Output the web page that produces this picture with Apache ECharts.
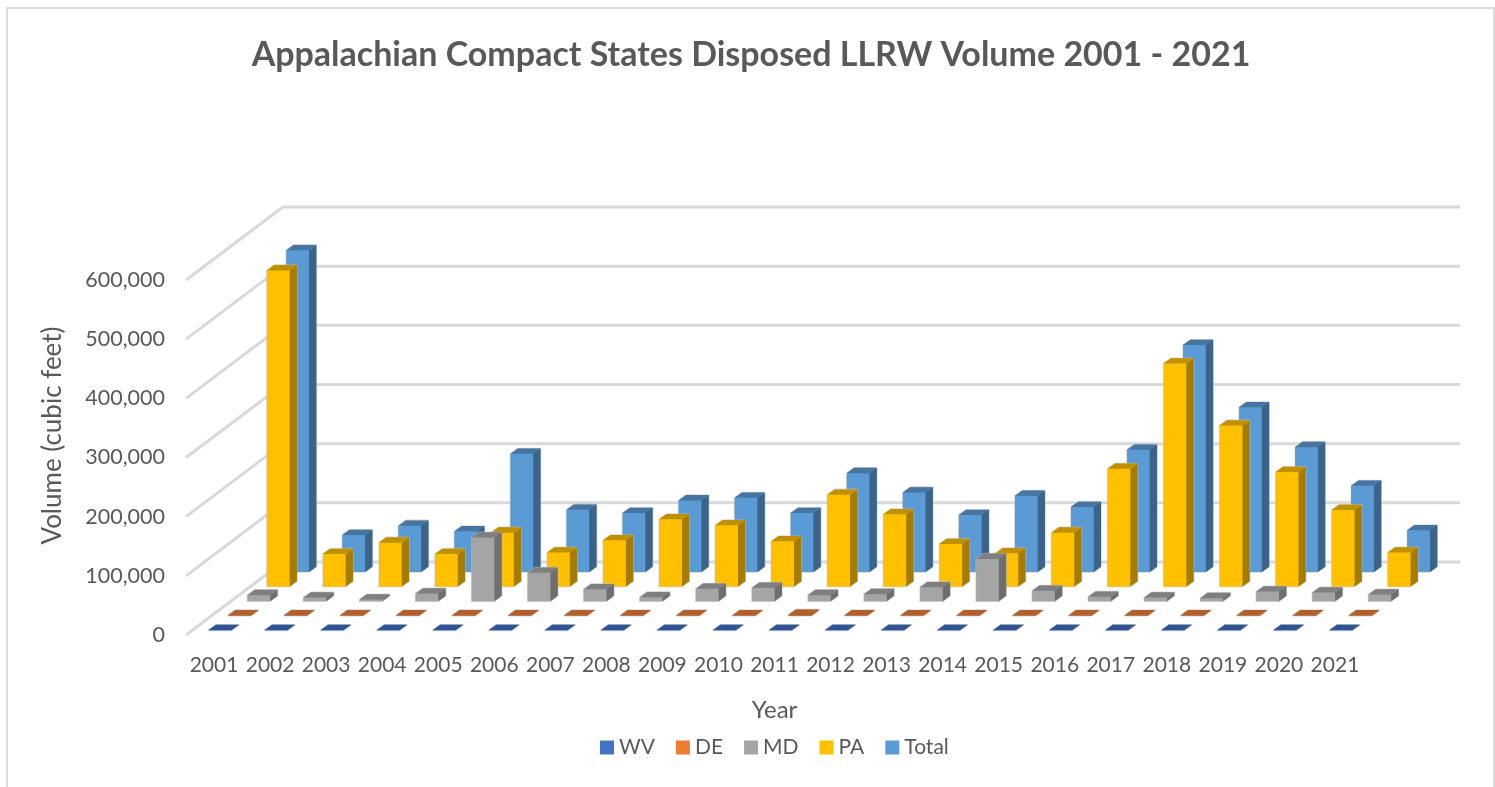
<!DOCTYPE html>
<html>
<head>
<meta charset="utf-8">
<style>html,body{margin:0;padding:0;background:#fff}#c{width:1495px;height:787px}</style>
<script src="https://cdn.jsdelivr.net/npm/echarts@6/dist/echarts.min.js"></script>
</head>
<body>
<div id="c"></div>
<script>
const years = ['2001','2002','2003','2004','2005','2006','2007','2008','2009','2010','2011','2012','2013','2014','2015','2016','2017','2018','2019','2020','2021'];
const WV = [500,500,500,500,500,500,500,500,500,500,500,500,500,500,500,500,500,500,500,500,500];
const DE = [800,800,800,800,800,800,800,800,800,800,1500,800,800,800,800,800,800,800,800,800,800];
const MD = [10100,6200,2800,12900,107400,47800,20200,6700,20800,22500,10100,11800,23600,71400,17400,7300,6200,5100,16300,14600,11200];
const PA = [534300,55100,74200,55100,91100,57400,78200,113600,103500,76500,155200,122000,72000,56200,91100,199100,377000,272300,193500,129400,57400];
const Total = [543800,62400,78200,68600,199700,105200,99500,120900,125400,99500,167000,134400,96200,128800,109700,206400,383500,278400,210900,145700,70300];
const gridTicks = [0,100000,200000,300000,400000,500000,600000];

const legendNames = ['WV','DE','MD','PA','Total'];
const seriesValues = [WV, DE, MD, PA, Total];
const palette = [
  {legend:'#4472c4', front:'#2f5597', side:'#264478', top:'#2f5597'},
  {legend:'#ed7d31', front:'#b5602a', side:'#9c5020', top:'#b5602a'},
  {legend:'#a5a5a5', front:'#a5a5a5', side:'#6e6e6e', top:'#7f7f7f'},
  {legend:'#ffc000', front:'#ffc000', side:'#a67c00', top:'#bf9000'},
  {legend:'#5b9bd5', front:'#5b9bd5', side:'#3a6489', top:'#4575a0'}
];

// oblique projection of the depth axis (pixels)
const wallDX = 97, wallDY = 73, slots = 5;
const barDX = 7.3, barDY = 5.3, barRatio = 0.405;
const slotDX = wallDX / slots, slotDY = wallDY / slots;

function barRenderer(depth, colors) {
  return function (params, api) {
    const idx = api.value(0), val = api.value(1);
    const bandW = api.size([1, 0])[0];
    const w = bandW * barRatio;
    const base = api.coord([idx, 0]);
    const head = api.coord([idx, val]);
    const ox = depth * slotDX + (slotDX - barDX) / 2;
    const oy = depth * slotDY + (slotDY - barDY) / 2;
    const xL = base[0] - w / 2 + ox, xR = xL + w;
    const yB = base[1] - oy, yT = head[1] - oy;
    const dx = barDX, dy = barDY;
    return {
      type: 'group',
      children: [
        {type:'polygon', shape:{points:[[xL,yB],[xR,yB],[xR+dx,yB-dy],[xR+dx,yT-dy],[xL+dx,yT-dy],[xL,yT]]},
          style:{fill:colors.front, stroke:'rgba(185,185,185,0.55)', lineWidth:1.6}},
        {type:'polygon', shape:{points:[[xL,yB],[xR,yB],[xR,yT],[xL,yT]]}, style:{fill:colors.front}},
        {type:'polygon', shape:{points:[[xR,yB],[xR+dx,yB-dy],[xR+dx,yT-dy],[xR,yT]]}, style:{fill:colors.side}},
        {type:'polygon', shape:{points:[[xL,yT],[xR,yT],[xR+dx,yT-dy],[xL+dx,yT-dy]]}, style:{fill:colors.top}}
      ]
    };
  };
}

function wallRenderer(params, api) {
  const v = api.value(1);
  const cs = params.coordSys;
  const p = api.coord([0, v]);
  return {
    type: 'polyline',
    shape: {points: [[cs.x, p[1]], [cs.x + wallDX, p[1] - wallDY], [cs.x + cs.width + wallDX, p[1] - wallDY]]},
    style: {fill: 'none', stroke: '#d9d9d9', lineWidth: 3}
  };
}

const series = [{
  type: 'custom', name: 'walls', silent: true, z: 1,
  renderItem: wallRenderer,
  data: gridTicks.map(v => [0, v]),
  encode: {x: 0, y: 1}
}];
for (let d = slots - 1; d >= 0; d--) {
  series.push({
    type: 'custom',
    name: legendNames[d],
    z: 2 + (slots - d),
    itemStyle: {color: palette[d].legend},
    renderItem: barRenderer(d, palette[d]),
    data: seriesValues[d].map((v, i) => [i, v]),
    encode: {x: 0, y: 1}
  });
}

const txt = '#595959', fam = 'Lato, "Open Sans", sans-serif';
const chart = echarts.init(document.getElementById('c'), null, {renderer: 'canvas'});
chart.setOption({
  animation: false,
  backgroundColor: '#fff',
  textStyle: {fontFamily: fam},
  title: {
    text: 'Appalachian Compact States Disposed LLRW Volume 2001 - 2021',
    left: 746, top: 33, textAlign: 'center',
    textStyle: {color: txt, fontFamily: fam, fontWeight: 'bold', fontSize: 34}
  },
  graphic: [{type: 'rect', silent: true, z: 0, shape: {x: 7, y: 8, width: 1487, height: 900},
    style: {fill: 'none', stroke: '#dcdcdc', lineWidth: 2}}],
  grid: {left: 186, top: 280, width: 1177, height: 355, outerBoundsMode: 'none'},
  legend: {
    data: legendNames, left: 600, top: 737, padding: 0, icon: 'rect', itemWidth: 14, itemHeight: 14, itemGap: 21,
    textStyle: {color: txt, fontSize: 21, fontFamily: fam}
  },
  xAxis: {
    type: 'category', data: years, name: 'Year', nameLocation: 'middle', nameGap: 63,
    nameTextStyle: {color: txt, fontSize: 24, fontFamily: fam},
    axisLine: {show: false}, axisTick: {show: false}, splitLine: {show: false},
    axisLabel: {color: txt, fontSize: 21, margin: 20, interval: 0, fontFamily: fam}
  },
  yAxis: {
    type: 'value', min: 0, max: 600000, interval: 100000,
    name: 'Volume (cubic feet)', nameLocation: 'middle', nameGap: 120,
    nameTextStyle: {color: txt, fontSize: 26, fontFamily: fam, padding: [0, 0, 0, 44]},
    axisLine: {show: false}, axisTick: {show: false}, splitLine: {show: false},
    axisLabel: {color: txt, fontSize: 21.5, margin: 21, fontFamily: fam,
      formatter: v => v.toLocaleString('en-US')}
  },
  series
});
</script>
</body>
</html>
